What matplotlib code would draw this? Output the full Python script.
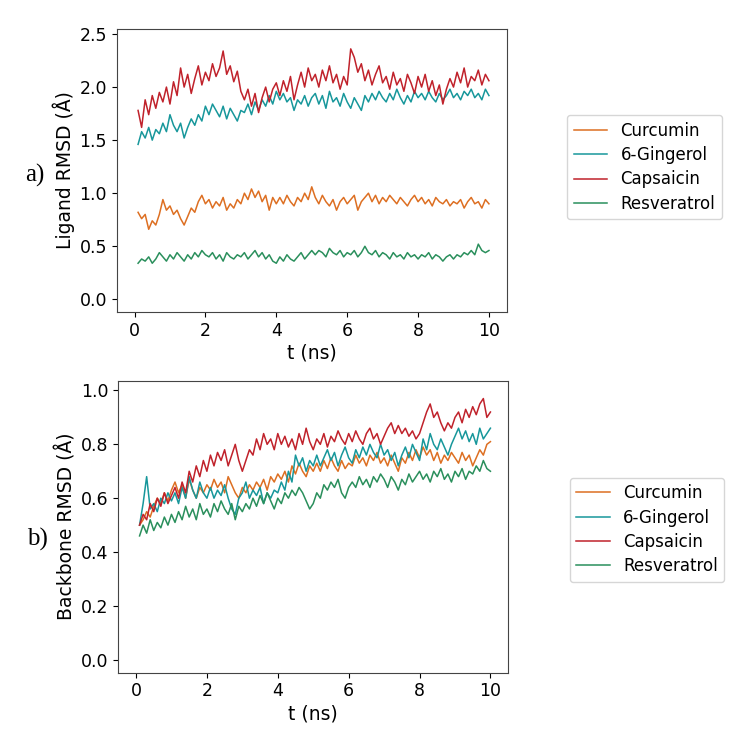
import numpy as np
from matplotlib import pyplot as plt

# time axis (ns), one sample every 0.1 ns
t = np.arange(1, 101) * 0.1

labels = ['Curcumin', '6-Gingerol', 'Capsaicin', 'Resveratrol']
colors = ['#dd6f22', '#17979b', '#c0222b', '#2a8f5c']

# a) ligand RMSD (A)
lig_curcumin = [
    0.82, 0.76, 0.80, 0.66, 0.74, 0.70, 0.80, 0.94, 0.84, 0.88,
    0.80, 0.84, 0.76, 0.70, 0.78, 0.86, 0.82, 0.92, 0.98, 0.90,
    0.94, 0.86, 0.92, 0.88, 0.96, 0.84, 0.90, 0.86, 0.94, 0.90,
    1.00, 0.94, 1.04, 0.96, 1.02, 0.92, 0.98, 0.84, 0.96, 0.90,
    0.96, 0.90, 0.98, 0.92, 0.88, 0.96, 0.92, 1.00, 0.94, 1.06,
    0.96, 0.90, 0.98, 0.92, 0.88, 0.94, 0.84, 0.92, 0.96, 0.90,
    0.94, 0.98, 0.84, 0.92, 0.96, 1.00, 0.92, 0.98, 0.90, 0.96,
    0.92, 0.98, 0.94, 0.90, 0.96, 0.92, 0.88, 0.94, 0.98, 0.92,
    0.96, 0.90, 0.94, 0.88, 0.96, 0.92, 0.90, 0.94, 0.88, 0.92,
    0.90, 0.94, 0.86, 0.92, 0.96, 0.90, 0.92, 0.86, 0.94, 0.90]
lig_gingerol = [
    1.46, 1.58, 1.52, 1.62, 1.50, 1.60, 1.56, 1.66, 1.58, 1.74,
    1.64, 1.58, 1.66, 1.52, 1.62, 1.70, 1.64, 1.74, 1.68, 1.82,
    1.74, 1.84, 1.78, 1.72, 1.82, 1.70, 1.80, 1.74, 1.68, 1.78,
    1.76, 1.84, 1.74, 1.86, 1.78, 1.88, 1.82, 1.92, 1.84, 1.96,
    1.88, 1.94, 1.86, 1.90, 1.78, 1.88, 1.84, 1.92, 1.82, 1.90,
    1.94, 1.84, 1.92, 1.80, 1.96, 1.86, 1.90, 1.82, 1.94, 1.86,
    1.80, 1.90, 1.84, 1.78, 1.92, 1.86, 1.94, 1.88, 1.96, 1.90,
    1.86, 1.94, 1.88, 1.98, 1.90, 1.84, 1.92, 1.86, 1.96, 1.90,
    1.94, 1.88, 1.96, 1.90, 1.86, 1.94, 1.88, 1.92, 1.98, 1.90,
    1.94, 1.88, 1.96, 1.92, 1.98, 1.90, 1.94, 1.88, 1.98, 1.92]
lig_capsaicin = [
    1.78, 1.62, 1.88, 1.74, 1.92, 1.80, 1.95, 1.86, 2.00, 1.84,
    2.05, 1.92, 2.18, 2.00, 2.12, 1.94, 2.08, 2.20, 2.02, 2.14,
    2.06, 2.22, 2.10, 2.18, 2.34, 2.12, 2.20, 2.05, 2.15, 1.96,
    1.88, 1.98, 1.82, 1.94, 1.76, 1.90, 2.00, 1.86, 1.98, 2.04,
    1.92, 2.06, 1.96, 2.10, 1.88, 2.02, 2.14, 2.00, 2.18, 2.06,
    2.12, 2.00, 2.16, 2.06, 2.20, 2.04, 2.12, 1.98, 2.10, 2.02,
    2.36, 2.28, 2.14, 2.22, 2.06, 2.16, 2.02, 2.12, 2.20, 2.04,
    2.10, 1.98, 2.14, 2.02, 2.08, 1.96, 2.12, 2.04, 1.94, 2.10,
    2.00, 2.12, 1.96, 2.06, 1.92, 2.02, 1.84, 1.98, 2.08, 2.00,
    2.14, 2.04, 2.18, 2.00, 2.10, 2.06, 2.16, 2.02, 2.12, 2.06]
lig_resveratrol = [
    0.34, 0.38, 0.36, 0.40, 0.34, 0.38, 0.44, 0.40, 0.36, 0.42,
    0.38, 0.44, 0.40, 0.36, 0.42, 0.38, 0.44, 0.40, 0.46, 0.42,
    0.40, 0.44, 0.38, 0.42, 0.36, 0.44, 0.40, 0.38, 0.42, 0.40,
    0.44, 0.38, 0.42, 0.46, 0.40, 0.44, 0.38, 0.42, 0.36, 0.34,
    0.40, 0.36, 0.42, 0.38, 0.36, 0.40, 0.44, 0.38, 0.42, 0.46,
    0.42, 0.46, 0.44, 0.40, 0.48, 0.44, 0.42, 0.46, 0.40, 0.44,
    0.42, 0.46, 0.40, 0.44, 0.50, 0.44, 0.42, 0.46, 0.40, 0.44,
    0.42, 0.38, 0.44, 0.40, 0.42, 0.38, 0.44, 0.40, 0.42, 0.38,
    0.42, 0.40, 0.44, 0.38, 0.42, 0.40, 0.36, 0.40, 0.42, 0.38,
    0.42, 0.40, 0.44, 0.42, 0.46, 0.42, 0.52, 0.46, 0.44, 0.46]

# b) backbone RMSD (A)
bb_curcumin = [
    0.50, 0.52, 0.55, 0.53, 0.57, 0.60, 0.58, 0.62, 0.59, 0.63,
    0.66, 0.62, 0.65, 0.60, 0.67, 0.63, 0.60, 0.64, 0.62, 0.65,
    0.63, 0.67, 0.64, 0.66, 0.62, 0.68, 0.65, 0.62, 0.60, 0.64,
    0.62, 0.65, 0.63, 0.66, 0.64, 0.67, 0.63, 0.68, 0.66, 0.69,
    0.67, 0.70, 0.66, 0.72, 0.69, 0.73, 0.70, 0.68, 0.72, 0.70,
    0.73, 0.70, 0.74, 0.71, 0.75, 0.72, 0.70, 0.74, 0.71, 0.73,
    0.72, 0.76, 0.73, 0.75, 0.72, 0.76, 0.74, 0.77, 0.73, 0.75,
    0.72, 0.76, 0.73, 0.70, 0.75, 0.73, 0.77, 0.74, 0.78, 0.75,
    0.79, 0.76, 0.78, 0.74, 0.77, 0.73, 0.76, 0.74, 0.77, 0.75,
    0.73, 0.77, 0.74, 0.76, 0.72, 0.75, 0.78, 0.76, 0.80, 0.81]
bb_gingerol = [
    0.50, 0.58, 0.68, 0.56, 0.58, 0.55, 0.60, 0.58, 0.62, 0.59,
    0.62, 0.58, 0.64, 0.60, 0.68, 0.63, 0.60, 0.66, 0.62, 0.60,
    0.64, 0.60, 0.63, 0.61, 0.65, 0.60, 0.56, 0.54, 0.60, 0.62,
    0.66, 0.60, 0.63, 0.61, 0.64, 0.58, 0.62, 0.60, 0.63, 0.62,
    0.66, 0.63, 0.70, 0.66, 0.76, 0.72, 0.75, 0.70, 0.74, 0.72,
    0.76, 0.72, 0.75, 0.78, 0.74, 0.77, 0.72, 0.76, 0.79, 0.75,
    0.73, 0.78, 0.75, 0.79, 0.76, 0.80, 0.77, 0.75, 0.80, 0.76,
    0.78, 0.74, 0.77, 0.72, 0.76, 0.79, 0.75, 0.80, 0.77, 0.74,
    0.82, 0.78, 0.84, 0.80, 0.78, 0.82, 0.79, 0.76, 0.80, 0.83,
    0.86, 0.82, 0.85, 0.81, 0.84, 0.80, 0.86, 0.82, 0.84, 0.86]
bb_capsaicin = [
    0.50, 0.54, 0.52, 0.58, 0.55, 0.60, 0.57, 0.62, 0.58, 0.61,
    0.64, 0.60, 0.66, 0.62, 0.70, 0.66, 0.72, 0.68, 0.74, 0.70,
    0.76, 0.72, 0.77, 0.74, 0.78, 0.72, 0.76, 0.80, 0.74, 0.70,
    0.74, 0.78, 0.76, 0.82, 0.78, 0.84, 0.80, 0.82, 0.78, 0.84,
    0.80, 0.83, 0.79, 0.82, 0.78, 0.84, 0.80, 0.86, 0.81, 0.78,
    0.82, 0.80, 0.84, 0.79, 0.83, 0.81, 0.85, 0.82, 0.80, 0.84,
    0.81, 0.85, 0.82, 0.80, 0.84, 0.86, 0.82, 0.84, 0.80, 0.83,
    0.86, 0.88, 0.84, 0.87, 0.84, 0.86, 0.83, 0.85, 0.82, 0.84,
    0.88, 0.92, 0.95, 0.90, 0.92, 0.88, 0.85, 0.88, 0.86, 0.90,
    0.92, 0.88, 0.93, 0.90, 0.94, 0.91, 0.95, 0.97, 0.90, 0.92]
bb_resveratrol = [
    0.46, 0.50, 0.47, 0.52, 0.48, 0.51, 0.49, 0.53, 0.50, 0.54,
    0.51, 0.55, 0.52, 0.57, 0.53, 0.56, 0.52, 0.58, 0.54, 0.56,
    0.53, 0.58, 0.55, 0.59, 0.56, 0.54, 0.58, 0.52, 0.57, 0.55,
    0.58, 0.56, 0.60, 0.57, 0.61, 0.58, 0.62, 0.59, 0.56, 0.60,
    0.58, 0.62, 0.60, 0.63, 0.61, 0.64, 0.62, 0.59, 0.56, 0.58,
    0.62, 0.60, 0.65, 0.63, 0.66, 0.64, 0.67, 0.62, 0.60, 0.64,
    0.66, 0.64, 0.68, 0.65, 0.67, 0.64, 0.68, 0.66, 0.69, 0.67,
    0.64, 0.68, 0.66, 0.63, 0.67, 0.65, 0.69, 0.66, 0.68, 0.70,
    0.67, 0.69, 0.66, 0.70, 0.68, 0.71, 0.67, 0.69, 0.66, 0.70,
    0.68, 0.71, 0.67, 0.70, 0.69, 0.72, 0.70, 0.74, 0.71, 0.70]

fig = plt.figure(figsize=(7.44, 7.36), dpi=100)
ax1 = fig.add_axes([0.157, 0.576, 0.524, 0.385])
ax2 = fig.add_axes([0.159, 0.086, 0.524, 0.397])

panels = [
    (ax1, [lig_curcumin, lig_gingerol, lig_capsaicin, lig_resveratrol],
     'Ligand RMSD (Å)', (-0.12, 2.55), [0.0, 0.5, 1.0, 1.5, 2.0, 2.5], (1.155, 0.695)),
    (ax2, [bb_curcumin, bb_gingerol, bb_capsaicin, bb_resveratrol],
     'Backbone RMSD (Å)', (-0.048, 1.037), [0.0, 0.2, 0.4, 0.6, 0.8, 1.0], (1.158, 0.668)),
]

for ax, series, ylab, ylim, yticks, anchor in panels:
    for y, lab, c in zip(series, labels, colors):
        ax.plot(t, y, color=c, lw=1.1, label=lab)
    ax.set_xlim(-0.5, 10.5)
    ax.set_ylim(*ylim)
    ax.set_yticks(yticks)
    ax.set_yticklabels(['%.1f' % v for v in yticks])
    ax.set_xticks([0, 2, 4, 6, 8, 10])
    ax.tick_params(labelsize=12.5)
    ax.set_xlabel('t (ns)', fontsize=13.5, labelpad=3)
    ax.set_ylabel(ylab, fontsize=13.5, labelpad=3)
    for s in ax.spines.values():
        s.set_color('#444444')
    ax.legend(loc='upper left', bbox_to_anchor=anchor, fontsize=12,
              labelspacing=0.38, borderaxespad=0)

fig.text(0.047, 0.762, 'a)', fontsize=18, family='Liberation Serif', ha='center', va='center')
fig.text(0.05, 0.267, 'b)', fontsize=18, family='Liberation Serif', ha='center', va='center')

fig.savefig('out.png', dpi=100)
